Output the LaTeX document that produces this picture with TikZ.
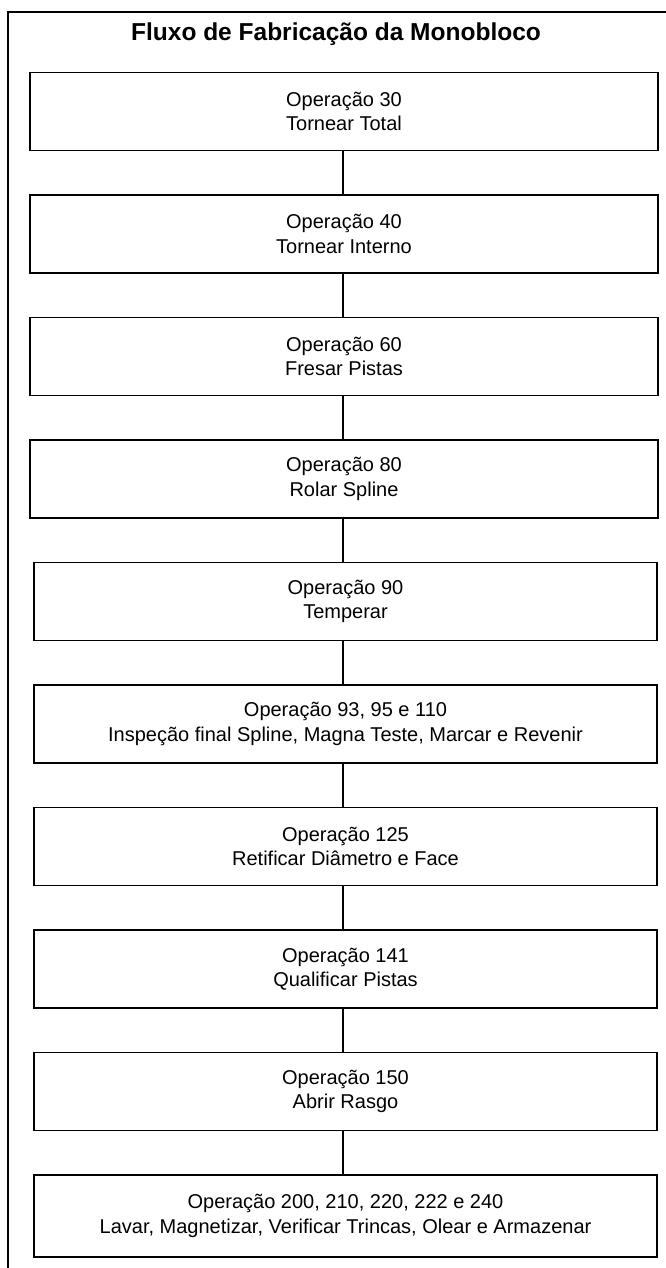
\documentclass[tikz,border=0pt]{standalone}
\usepackage{fontspec}
\setmainfont{Liberation Sans}
\begin{document}
\begin{tikzpicture}[x=1pt,y=-1pt,
  opbox/.style={draw=black,line width=1.8pt,minimum height=78pt,align=center,
    font=\fontsize{20}{24.5}\selectfont,inner sep=0pt},
  widebox/.style={opbox,minimum width=628pt},
  narrowbox/.style={opbox,minimum width=623pt},
  conn/.style={line width=1.8pt},
  frame/.style={line width=2.8pt},
  titletext/.style={font=\fontsize{24.5}{28}\selectfont\bfseries}]
\useasboundingbox (0,0) rectangle (666,1268);
\coordinate (fbl) at (8,1268);
\coordinate (ftl) at (8,12);
\coordinate (ftr) at (666,12);
\coordinate (cx) at (343,0);
\draw[frame] (fbl) -- (ftl) -- (ftr);
\node[titletext] (title) at (336,34) {Fluxo de Fabricação da Monobloco};
\node[widebox] (b1) at (344,111.5) {Operação 30\\Tornear Total};
\node[widebox] (b2) at (344,234) {Operação 40\\Tornear Interno};
\node[widebox] (b3) at (344,356.5) {Operação 60\\Fresar Pistas};
\node[widebox] (b4) at (344,479) {Operação 80\\Rolar Spline};
\node[narrowbox] (b5) at (345.5,601.5) {Operação 90\\Temperar};
\node[narrowbox] (b6) at (345.5,724) {Operação 93, 95 e 110\\Inspeção final Spline, Magna Teste, Marcar e Revenir};
\node[narrowbox] (b7) at (345.5,846.5) {Operação 125\\Retificar Diâmetro e Face};
\node[narrowbox] (b8) at (345.5,969) {Operação 141\\Qualificar Pistas};
\node[narrowbox] (b9) at (345.5,1091.5) {Operação 150\\Abrir Rasgo};
\node[narrowbox, minimum height=82pt] (b10) at (345.5,1216) {Operação 200, 210, 220, 222 e 240\\Lavar, Magnetizar, Verificar Trincas, Olear e Armazenar};
\foreach \a/\b in {b1/b2,b2/b3,b3/b4,b4/b5,b5/b6,b6/b7,b7/b8,b8/b9,b9/b10}{
  \draw[conn] (\a.south -| cx) -- (\b.north -| cx);
}
\end{tikzpicture}
\end{document}
